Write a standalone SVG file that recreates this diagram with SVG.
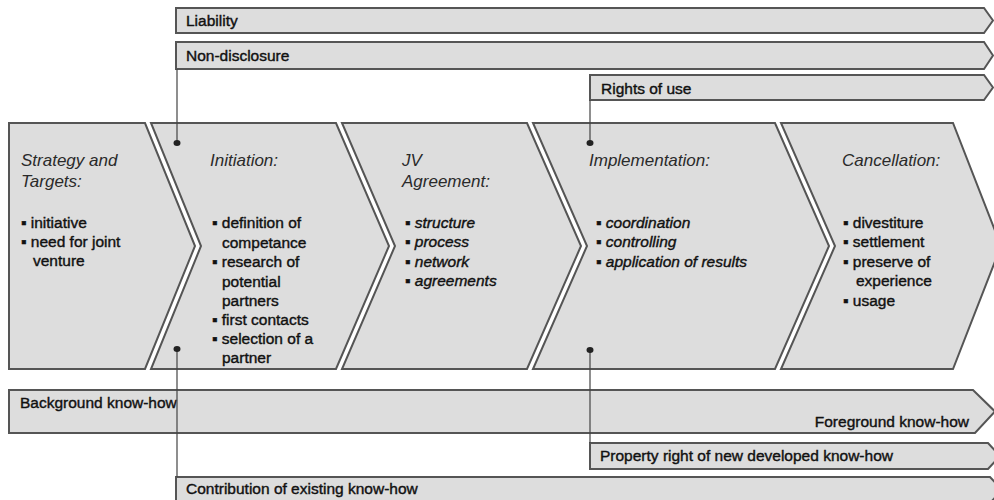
<svg xmlns="http://www.w3.org/2000/svg" width="994" height="500" viewBox="0 0 994 500">
  <style>
    .shape { fill: #dddddd; stroke: #555555; stroke-width: 2; stroke-linejoin: miter; }
    .bar { fill: #dddddd; stroke: #555555; stroke-width: 2; }
    .head { font-family: "Liberation Sans", Arial, sans-serif; font-size: 17px; font-style: italic; fill: #2a2a2a; }
    .item, .itemi, .label { font-family: "Liberation Sans", Arial, sans-serif; font-size: 15.5px; fill: #111111; stroke: #111111; stroke-width: 0.4; }
    .itemi { font-style: italic; }
    .link { stroke: #444444; stroke-width: 1.2; fill: none; }
    .dot { fill: #222222; }
  </style>

  <!-- upper contract bars -->
  <g id="liability">
    <polygon class="bar" points="176,8 984,8 993,20.5 984,33 176,33"/>
    <text class="label" x="186" y="26">Liability</text>
  </g>
  <g id="non-disclosure">
    <polygon class="bar" points="176,42 984,42 993,55.5 984,69 176,69"/>
    <text class="label" x="186" y="61">Non-disclosure</text>
  </g>
  <g id="rights-of-use">
    <polygon class="bar" points="590,75 984,75 993,87.5 984,100 590,100"/>
    <text class="label" x="601" y="94">Rights of use</text>
  </g>

  <!-- process phases -->
  <g id="strategy">
    <polygon class="shape" points="9,123 145,123 195,246 145,369 9,369"/>
    <text class="head" x="21" y="166">Strategy and</text>
    <text class="head" x="21" y="187">Targets:</text>
    <text class="item" x="21" y="228">▪ initiative</text>
    <text class="item" x="21" y="247">▪ need for joint</text>
    <text class="item" x="33" y="266">venture</text>
  </g>
  <g id="initiation">
    <polygon class="shape" points="151,123 336,123 389,246 336,369 151,369 201,246"/>
    <text class="head" x="210" y="166">Initiation:</text>
    <text class="item" x="212" y="228">▪ definition of</text>
    <text class="item" x="222" y="248">competance</text>
    <text class="item" x="212" y="267">▪ research of</text>
    <text class="item" x="222" y="287">potential</text>
    <text class="item" x="222" y="306">partners</text>
    <text class="item" x="212" y="325">▪ first contacts</text>
    <text class="item" x="212" y="344">▪ selection of a</text>
    <text class="item" x="222" y="363">partner</text>
  </g>
  <g id="jv-agreement">
    <polygon class="shape" points="342,123 527,123 581,246 527,369 342,369 395,246"/>
    <text class="head" x="402" y="166">JV</text>
    <text class="head" x="402" y="187">Agreement:</text>
    <text class="itemi" x="405" y="228">▪ structure</text>
    <text class="itemi" x="405" y="247">▪ process</text>
    <text class="itemi" x="405" y="267">▪ network</text>
    <text class="itemi" x="405" y="286">▪ agreements</text>
  </g>
  <g id="implementation">
    <polygon class="shape" points="533,123 775,123 829,246 775,369 533,369 587,246"/>
    <text class="head" x="589" y="166">Implementation:</text>
    <text class="itemi" x="596" y="228">▪ coordination</text>
    <text class="itemi" x="596" y="247">▪ controlling</text>
    <text class="itemi" x="596" y="267">▪ application of results</text>
  </g>
  <g id="cancellation">
    <polygon class="shape" points="781,123 953,123 1001,246 953,369 781,369 835,246"/>
    <text class="head" x="842" y="166">Cancellation:</text>
    <text class="item" x="843" y="228">▪ divestiture</text>
    <text class="item" x="843" y="247">▪ settlement</text>
    <text class="item" x="843" y="267">▪ preserve of</text>
    <text class="item" x="856" y="286">experience</text>
    <text class="item" x="843" y="306">▪ usage</text>
  </g>

  <!-- lower know-how bars -->
  <g id="know-how">
    <polygon class="bar" points="9,390 973,390 995,411.5 975,433 9,433"/>
    <text class="label" x="20" y="408">Background know-how</text>
    <text class="label" x="969" y="427" text-anchor="end">Foreground know-how</text>
  </g>
  <g id="property-right">
    <polygon class="bar" points="590,443 988,443 1000,456 988,469 590,469"/>
    <text class="label" x="600" y="461">Property right of new developed know-how</text>
  </g>
  <g id="contribution">
    <polygon class="bar" points="176,477 990,477 1002,490 990,503 176,503"/>
    <text class="label" x="186" y="494">Contribution of existing know-how</text>
  </g>

  <!-- connectors -->
  <g id="connectors">
    <line class="link" x1="177" y1="69" x2="177" y2="143"/>
    <ellipse class="dot" cx="177" cy="143" rx="3.5" ry="3"/>
    <line class="link" x1="177" y1="349" x2="177" y2="477"/>
    <ellipse class="dot" cx="177" cy="349" rx="3.5" ry="3"/>
    <line class="link" x1="590" y1="100" x2="590" y2="143"/>
    <ellipse class="dot" cx="590" cy="143" rx="3.5" ry="3"/>
    <line class="link" x1="590" y1="350" x2="590" y2="443"/>
    <ellipse class="dot" cx="590" cy="350" rx="3.5" ry="3"/>
  </g>
</svg>
